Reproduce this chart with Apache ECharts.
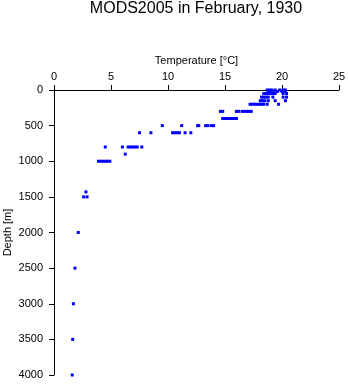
<!DOCTYPE html>
<html>
<head>
<meta charset="utf-8">
<script src="https://cdn.jsdelivr.net/npm/echarts@6/dist/echarts.min.js"></script>
<style>
  html, body { margin: 0; padding: 0; background: #fff; }
  #chart { width: 348px; height: 384px; }
</style>
</head>
<body>
<div id="chart"></div>
<script>
// Standard observation depths (m) of the profiles
const depthLevels = [0, 20, 50, 100, 150, 200, 300, 400, 500, 600, 800, 900, 1000, 1430, 1500, 2000, 2500, 3000, 3500, 4000];

// Temperatures (°C) recorded at each depth level
const levelTemps = [
  [18.7, 18.9, 19.1, 19.4, 19.8, 20.1, 20.3],
  [18.8, 19.0, 19.3, 19.6, 20.0, 20.3],
  [18.4, 18.6, 18.8, 19.0, 19.2, 19.4, 20.1, 20.4],
  [18.2, 18.4, 18.6, 18.8, 19.2, 20.1, 20.4],
  [18.1, 18.3, 18.5, 18.8, 19.4, 20.3],
  [17.2, 17.4, 17.6, 17.8, 18.0, 18.2, 18.4, 18.7, 19.7],
  [14.6, 14.8, 16.0, 16.2, 16.5, 16.7, 16.9, 17.1, 17.3],
  [14.8, 15.0, 15.2, 15.4, 15.6, 15.8, 16.0],
  [9.5, 11.2, 12.7, 12.6, 13.3, 13.5, 13.8, 14.0],
  [7.5, 8.5, 10.4, 10.6, 10.8, 11.0, 11.5, 12.0],
  [4.5, 6.0, 6.5, 6.7, 6.9, 7.1, 7.3, 7.7],
  [6.25],
  [3.9, 4.1, 4.3, 4.5, 4.7, 4.9],
  [2.8],
  [2.6, 2.9],
  [2.13],
  [1.84],
  [1.7],
  [1.64],
  [1.6]
];

const tempTicks = [0, 5, 10, 15, 20, 25];
const depthTicks = [0, 500, 1000, 1500, 2000, 2500, 3000, 3500, 4000];

const points = [];
depthLevels.forEach((d, i) => {
  levelTemps[i].forEach(t => points.push([t, d]));
});

const FONT = '"Liberation Sans", Arial, Helvetica, sans-serif';
const chart = echarts.init(document.getElementById('chart'), null, { renderer: 'canvas' });

chart.setOption({
  animation: false,
  backgroundColor: '#ffffff',
  title: {
    text: 'MODS2005 in February, 1930',
    left: 196,
    top: 1,
    padding: 0,
    textAlign: 'center',
    textStyle: { fontFamily: FONT, fontSize: 16, fontWeight: 'normal', color: '#000' }
  },
  grid: { left: 54, top: 90, width: 285, height: 285, containLabel: false, outerBoundsMode: 'none' },
  xAxis: {
    type: 'value',
    position: 'top',
    min: tempTicks[0],
    max: tempTicks[tempTicks.length - 1],
    interval: 5,
    name: 'Temperature [°C]',
    nameLocation: 'middle',
    nameGap: 29,
    nameMoveOverlap: false,
    nameTextStyle: { fontFamily: FONT, fontSize: 11, color: '#000', verticalAlign: 'middle' },
    axisLine: { show: true, lineStyle: { color: '#000', width: 1 } },
    axisTick: { show: true, inside: false, length: 5, lineStyle: { color: '#000' } },
    axisLabel: { fontFamily: FONT, fontSize: 11, color: '#000', margin: 8 },
    splitLine: { show: false }
  },
  yAxis: {
    type: 'value',
    inverse: true,
    min: depthTicks[0],
    max: depthTicks[depthTicks.length - 1],
    interval: 500,
    name: 'Depth [m]',
    nameLocation: 'middle',
    nameGap: 46,
    nameMoveOverlap: false,
    nameTextStyle: { fontFamily: FONT, fontSize: 11, color: '#000', verticalAlign: 'middle' },
    axisLine: { show: true, lineStyle: { color: '#000', width: 1 } },
    axisTick: { show: true, inside: false, length: 5, lineStyle: { color: '#000' } },
    axisLabel: { fontFamily: FONT, fontSize: 11, color: '#000', margin: 11, formatter: v => String(v) },
    splitLine: { show: false }
  },
  series: [{
    type: 'scatter',
    data: points,
    symbol: 'rect',
    symbolSize: 3,
    itemStyle: { color: '#0000ff', opacity: 1 },
    silent: true
  }]
});
</script>
</body>
</html>
